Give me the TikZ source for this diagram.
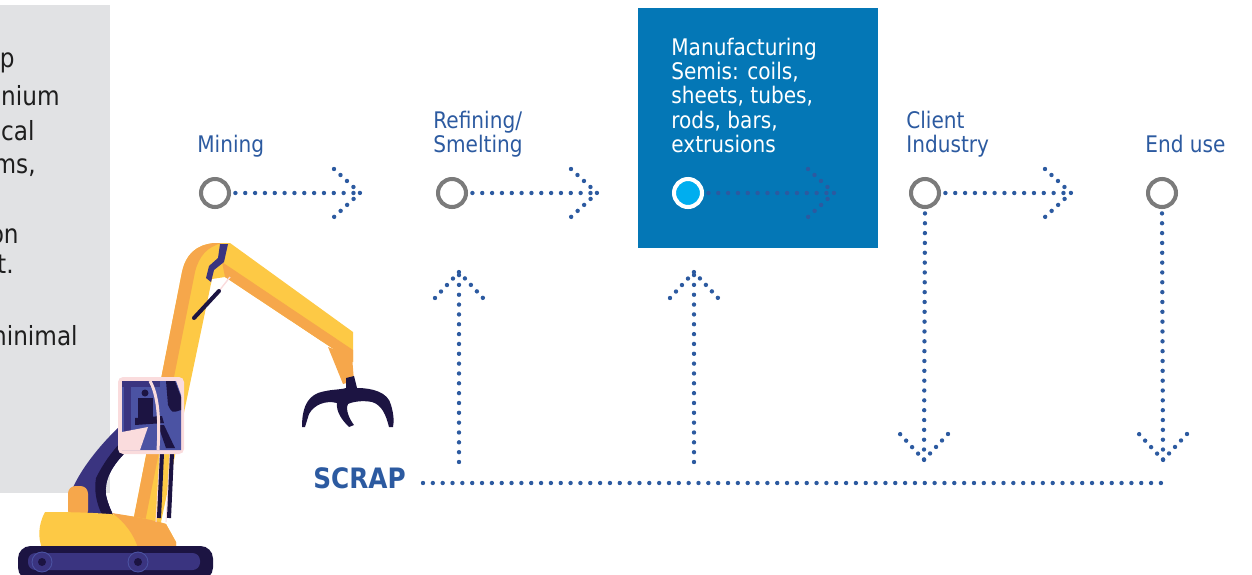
\documentclass[tikz,border=0pt]{standalone}
\usepackage{fontspec}
\newfontfamily\flowfont{DejaVu Sans}[FakeStretch=0.88]
\definecolor{flowblue}{HTML}{2C5AA0}
\definecolor{ringgrey}{HTML}{7B7B7B}
\definecolor{mfgblue}{HTML}{0477B6}
\definecolor{cyanfill}{HTML}{00AEEF}
\definecolor{notegrey}{HTML}{E1E2E4}
\definecolor{notetext}{HTML}{1E1E1E}
\definecolor{exyellow}{HTML}{FDC945}
\definecolor{exorange}{HTML}{F6A74B}
\definecolor{exnavy}{HTML}{1C1442}
\definecolor{expurple}{HTML}{3A3480}
\definecolor{exblue}{HTML}{4B53A3}
\definecolor{expink}{HTML}{FADCDD}
\tikzset{
    dotline/.style={draw=flowblue, line width=2.5pt, line cap=round, dash pattern=on 0pt off 5.6pt},
    chevline/.style={draw=flowblue, line width=2.5pt, line cap=round, dash pattern=on 0pt off 5.02pt},
    dotchev/.pic={\draw[chevline] (-26,-24) -- (0,0) -- (-26,24);},
    stage/.style={circle, draw=ringgrey, line width=2.3pt, minimum size=0.56cm, inner sep=0pt},
    lbl/.style={anchor=south west, inner sep=0pt, align=left, text=flowblue, font=\flowfont\fontsize{13}{13.8}\selectfont},
    note/.style={anchor=base east, inner sep=0pt, text=notetext, font=\flowfont\fontsize{15}{19.6}\selectfont},
}
\begin{document}
\begin{tikzpicture}[x=0.02cm, y=-0.02cm]
    \useasboundingbox (0,0) rectangle (1252,575);

    \fill[notegrey] (0,5) rectangle (110,493);
    \begin{scope}
        \clip (0,5) rectangle (110,493);
        \foreach \t/\r/\yb [count=\i] in {p/15/67, nium/60/105, cal/35/140, {ms,/36/173}, on/19/243, t./14/273, ninimal/78/345}
            \node[note] (note\i) at (\r,\yb) {\t};
    \end{scope}

    \fill[mfgblue] (638,8) rectangle (878,248);

    \node[stage] (mining) at (215,193) {};
    \node[stage] (refining) at (452,193) {};
    \node[stage, draw=white, fill=cyanfill] (manuf) at (688,193) {};
    \node[stage] (client) at (925,193) {};
    \node[stage] (enduse) at (1162,193) {};

    \node[lbl] (lmining) at (197,160) {Mining\strut};
    \node[lbl] (lrefining) at (433,160) {Refining/\\Smelting\strut};
    \node[lbl, text=white] (lmanuf) at (671,160) {Manufacturing\\Semis: coils,\\sheets, tubes,\\rods, bars,\\extrusions\strut};
    \node[lbl] (lclient) at (906,160) {Client\\Industry\strut};
    \node[lbl] (lenduse) at (1145,160) {End use\strut};

    \coordinate (tip1) at (360,193);
    \coordinate (tip2) at (597,193);
    \coordinate (tip3) at (834,193);
    \coordinate (tip4) at (1071,193);
    \foreach \a/\b in {mining/tip1, refining/tip2, manuf/tip3, client/tip4} {
        \draw[dotline, shorten <=2.5pt] (\a.east) -- (\b);
        \pic at (\b) {dotchev};
    }

    \coordinate (up1s) at (459,462);
    \coordinate (up1) at (459,272);
    \coordinate (up2s) at (694,462);
    \coordinate (up2) at (694,272);
    \draw[dotline] (up1s) -- (up1);
    \draw[dotline] (up2s) -- (up2);
    \pic[rotate=90] at (up1) {dotchev};
    \pic[rotate=90] at (up2) {dotchev};

    \coordinate (dn1) at (924,460);
    \coordinate (dn2) at (1163,460);
    \draw[dotline, shorten <=2.5pt] (client.south) -- (dn1);
    \draw[dotline, shorten <=2.5pt] (enduse.south) -- (dn2);
    \pic[rotate=-90] at (dn1) {dotchev};
    \pic[rotate=-90] at (dn2) {dotchev};

    \node[anchor=base west, inner sep=0pt, text=flowblue, font=\flowfont\bfseries\fontsize{16}{16}\selectfont] (scrap) at (313,488) {SCRAP};
    \coordinate (scrapline) at (423,483);
    \coordinate (scrapend) at (1164,483);
    \draw[dotline] (scrapline) -- (scrapend);

    \fill[exyellow] (132,527) -- (182,272) .. controls (186,254) and (196,245) .. (214,243) -- (230,243) -- (353,332) -- (353,362) -- (225,277) -- (212,279) -- (160,527) -- cycle;
    \fill[exorange] (132,527) -- (182,272) .. controls (186,254) and (196,245) .. (214,243) -- (222,243) .. controls (207,247) and (199,256) .. (195,272) -- (144,527) -- cycle;
    \fill[exorange] (222,262) -- (353,350) -- (353,362) -- (225,277) -- cycle;
    \fill[exorange] (328,347) -- (352,356) -- (354,381) -- (343,384) -- cycle;
    \fill[expurple] (220,244) -- (228,244) -- (224,262) -- (214,270) -- (211,282) -- (206,278) -- (209,266) -- (218,258) -- cycle;
    \draw[expink, line width=0.8pt] (219,291) -- (230,277);
    \draw[exnavy, line width=2.3pt, line cap=round] (194,318) -- (219,291);
    \fill[exnavy] (346,378) -- (354,376) -- (357,388)
        .. controls (372,388) and (388,392) .. (391,405)
        .. controls (394,415) and (394,422) .. (393,427) -- (389,427)
        .. controls (386,415) and (382,405) .. (372,402)
        .. controls (362,400) and (352,402) .. (348,404)
        .. controls (345,410) and (350,420) .. (354,425) -- (349,427)
        .. controls (342,420) and (336,412) .. (337,403)
        .. controls (325,400) and (314,405) .. (309,414) -- (305,427) -- (302,427)
        .. controls (302,410) and (306,398) .. (318,393)
        .. controls (330,389) and (340,390) .. (346,388) -- cycle;

    \fill[expurple] (72,490) .. controls (80,470) and (100,445) .. (118,428) -- (128,450) .. controls (112,465) and (104,480) .. (106,495) .. controls (108,505) and (112,512) .. (113,515) -- (75,515) -- cycle;
    \fill[exnavy] (96,478) .. controls (104,462) and (112,452) .. (120,443) -- (128,450) .. controls (112,465) and (104,480) .. (106,495) .. controls (108,505) and (112,512) .. (113,515) -- (102,515) .. controls (96,502) and (94,490) .. cycle;
    \fill[exorange, rounded corners=0.15cm] (68,486) rectangle (88,518);
    \fill[exyellow] (45,512) .. controls (110,512) and (140,516) .. (166,524) -- (176,542) -- (176,548) -- (42,548) .. controls (38,538) and (38,525) .. cycle;
    \fill[exorange] (112,513) .. controls (130,516) and (150,519) .. (166,524) -- (176,542) -- (176,548) -- (138,548) .. controls (134,535) and (125,522) .. cycle;
    \fill[exnavy, rounded corners=0.25cm] (18,546) rectangle (213,580);
    \fill[expurple, rounded corners=0.15cm] (28,553) rectangle (200,570);
    \foreach \wx in {42,138} {
        \fill[expurple, draw=exblue, line width=0.5pt] (\wx,562) circle (0.2cm);
        \fill[exnavy] (\wx,562) circle (0.08cm);
    }

    \draw[expink, line width=0.6pt] (160,453) -- (156,522) (170,453) -- (166,522);
    \draw[exnavy, line width=2.3pt] (162,453) -- (159,518) (172,453) -- (169,518);
    \fill[expink, rounded corners=0.1cm] (118,377) rectangle (184,454);
    \fill[exblue] (122,381) -- (176,381) -- (181,395) -- (181,450) -- (122,450) -- cycle;
    \fill[expurple] (122,381) rectangle (160,387);
    \fill[expurple] (124,383) rectangle (131,448);
    \fill[exnavy] (166,381) -- (175,381) -- (181,397) -- (181,410) .. controls (172,413) .. (168,405) -- cycle;
    \fill[exnavy] (145,393) circle (0.07cm);
    \fill[exnavy] (138,398) rectangle (153,418);
    \fill[exnavy] (135,418) -- (162,416) -- (164,423) -- (135,425) -- cycle;
    \fill[exnavy] (158,425) -- (164,425) -- (175,448) -- (166,448) -- cycle;
    \fill[expink] (122,450) -- (122,432) -- (148,427) -- (140,450) -- cycle;
    \draw[expink, line width=1.7pt] (150,381) .. controls (158,395) and (160,420) .. (158,450);
\end{tikzpicture}
\end{document}
